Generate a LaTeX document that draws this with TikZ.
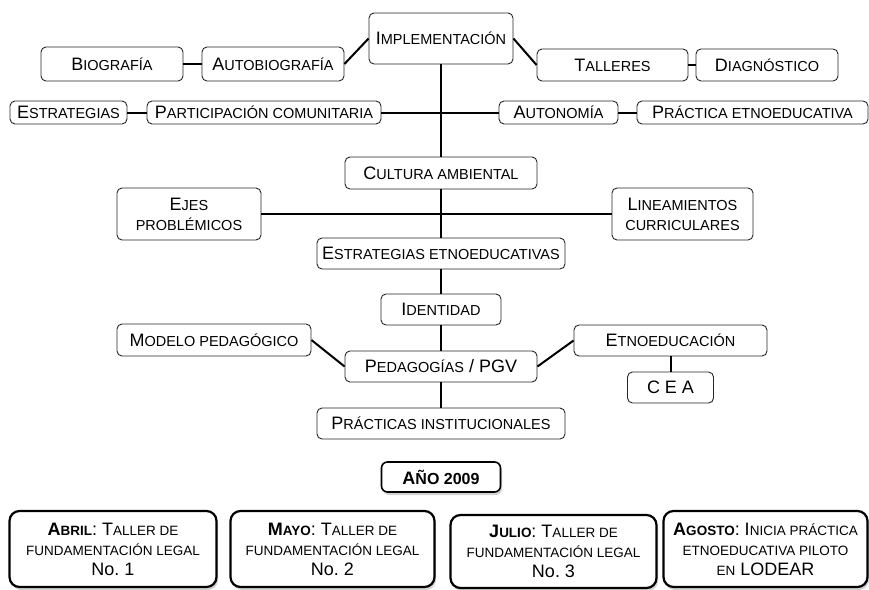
\documentclass[tikz,border=0pt]{standalone}
\usepackage{fontspec}
\setmainfont{Liberation Sans}
\usepackage{tikz}
\usetikzlibrary{positioning,shadows}
\newcommand{\sct}[2][14.5]{{\fontsize{#1}{#1}\selectfont\MakeUppercase{#2}}}

\begin{document}
\begin{tikzpicture}[
    concept/.style={draw=black!85, line width=0.9pt, rounded corners=5pt, inner sep=0pt,
      align=center, font=\fontsize{18}{20}\selectfont},
    event/.style={draw=black, line width=2.2pt, rounded corners=10pt, inner sep=0pt,
      align=center, font=\fontsize{18}{20}\selectfont, fill=white,
      drop shadow={shadow xshift=1.5pt, shadow yshift=-3pt, opacity=0.35}},
    wh/.style 2 args={minimum width=#1, minimum height=#2},
    link/.style={line width=2pt, black}]

      \useasboundingbox (0,0) rectangle (869pt,-589pt);

      % trunk
      \node[concept, wh={144pt}{51pt}] (impl) at (441pt,-38.5pt) {I\sct{mplementación}};
      \node[concept, wh={192pt}{32pt}, node distance=134.5pt] (cultura) [below of=impl] {C\sct{ultura ambiental}};
      \node[concept, wh={248pt}{31pt}, node distance=80.5pt] (estretno) [below of=cultura] {E\sct{strategias etnoeducativas}};
      \node[concept, wh={120pt}{31pt}, node distance=56pt] (ident) [below of=estretno] {I\sct{dentidad}};
      \node[concept, wh={192pt}{31pt}, node distance=57pt] (ped) [below of=ident] {P\sct{edagogías} / PGV};
      \node[concept, wh={248pt}{31pt}, node distance=57pt] (pinst) [below of=ped] {P\sct{rácticas institucionales}};

      % top rows
      \node[concept, wh={142pt}{34pt}, node distance=168pt, yshift=-25.5pt] (autobio) [left of=impl] {A\sct{utobiografía}};
      \node[concept, wh={142pt}{34pt}, node distance=161pt] (bio) [left of=autobio] {B\sct{iografía}};
      \node[concept, wh={151pt}{32pt}, node distance=171.5pt, yshift=-26.5pt] (talleres) [right of=impl] {T\sct{alleres}};
      \node[concept, wh={142pt}{32pt}, node distance=154.5pt] (diag) [right of=talleres] {D\sct{iagnóstico}};
      \node[concept, wh={234pt}{23pt}, node distance=177pt, yshift=-74pt] (partic) [left of=impl] {P\sct{articipación comunitaria}};
      \node[concept, wh={117pt}{23pt}, node distance=195.5pt] (estr) [left of=partic] {E\sct{strategias}};
      \node[concept, wh={119pt}{23pt}, node distance=117.5pt, yshift=-74pt] (auton) [right of=impl] {A\sct{utonomía}};
      \node[concept, wh={231pt}{23pt}, node distance=194pt] (practica) [right of=auton] {P\sct{ráctica etnoeducativa}};

      % middle
      \node[concept, wh={144pt}{52pt}, node distance=252pt, yshift=-41pt] (ejes) [left of=cultura] {E\sct{jes}\\\sct{problémicos}};
      \node[concept, wh={141pt}{52pt}, node distance=241.5pt, yshift=-41pt] (linea) [right of=cultura] {L\sct{ineamientos}\\\sct{curriculares}};
      \node[concept, wh={194pt}{32pt}, node distance=227pt, yshift=26.5pt] (modelo) [left of=ped] {M\sct{odelo pedagógico}};
      \node[concept, wh={193pt}{31pt}, node distance=229.5pt, yshift=26pt] (etno) [right of=ped] {E\sct{tnoeducación}};
      \node[concept, wh={86pt}{31pt}, node distance=47pt] (cea) [below of=etno] {C E A};

      % year and events
      \node[event, wh={119pt}{30pt}, line width=1.6pt, rounded corners=6pt, node distance=53.5pt] (anio) [below of=pinst] {\textbf{A\sct[16]{ño 2009}}};
      \node[event, wh={204pt}{76pt}, node distance=72pt, xshift=-108.5pt] (mayo) [below of=anio] {\textbf{M\sct[13.5]{ayo}}: T\sct[13.5]{aller de}\\\sct[13.5]{fundamentación legal}\\No.~2};
      \node[event, wh={207pt}{76pt}, node distance=219.5pt] (abril) [left of=mayo] {\textbf{A\sct[13.5]{bril}}: T\sct[13.5]{aller de}\\\sct[13.5]{fundamentación legal}\\No.~1};
      \node[event, wh={206pt}{73pt}, node distance=221pt, yshift=-2.5pt] (julio) [right of=mayo] {\textbf{J\sct[13.5]{ulio}}: T\sct[13.5]{aller de}\\\sct[13.5]{fundamentación legal}\\No.~3};
      \node[event, wh={204pt}{76pt}, node distance=212pt, yshift=2.5pt] (agosto) [right of=julio] {\textbf{A\sct[13.5]{gosto}}: I\sct[13.5]{nicia práctica}\\\sct[13.5]{etnoeducativa piloto}\\\sct[13.5]{en} LODEAR};

      \draw [link] (impl.south) -- (cultura.north);
      \draw [link] (cultura.south) -- (estretno.north);
      \draw [link] (estretno.south) -- (ident.north);
      \draw [link] (ident.south) -- (ped.north);
      \draw [link] (ped.south) -- (pinst.north);
      \draw [link] (bio.east) -- (autobio.west);
      \draw [link] (autobio.east) -- (impl.west);
      \draw [link] (impl.east) -- (talleres.west);
      \draw [link] (talleres.east) -- (diag.west);
      \draw [link] (estr.east) -- (partic.west);
      \draw [link] (partic.east) -- (auton.west);
      \draw [link] (auton.east) -- (practica.west);
      \draw [link] (ejes.east) -- (linea.west);
      \draw [link] (modelo.east) -- (ped.west);
      \draw [link] (ped.east) -- (etno.west);
      \draw [link] (etno.south) -- (cea.north);
    \end{tikzpicture}
\end{document}
